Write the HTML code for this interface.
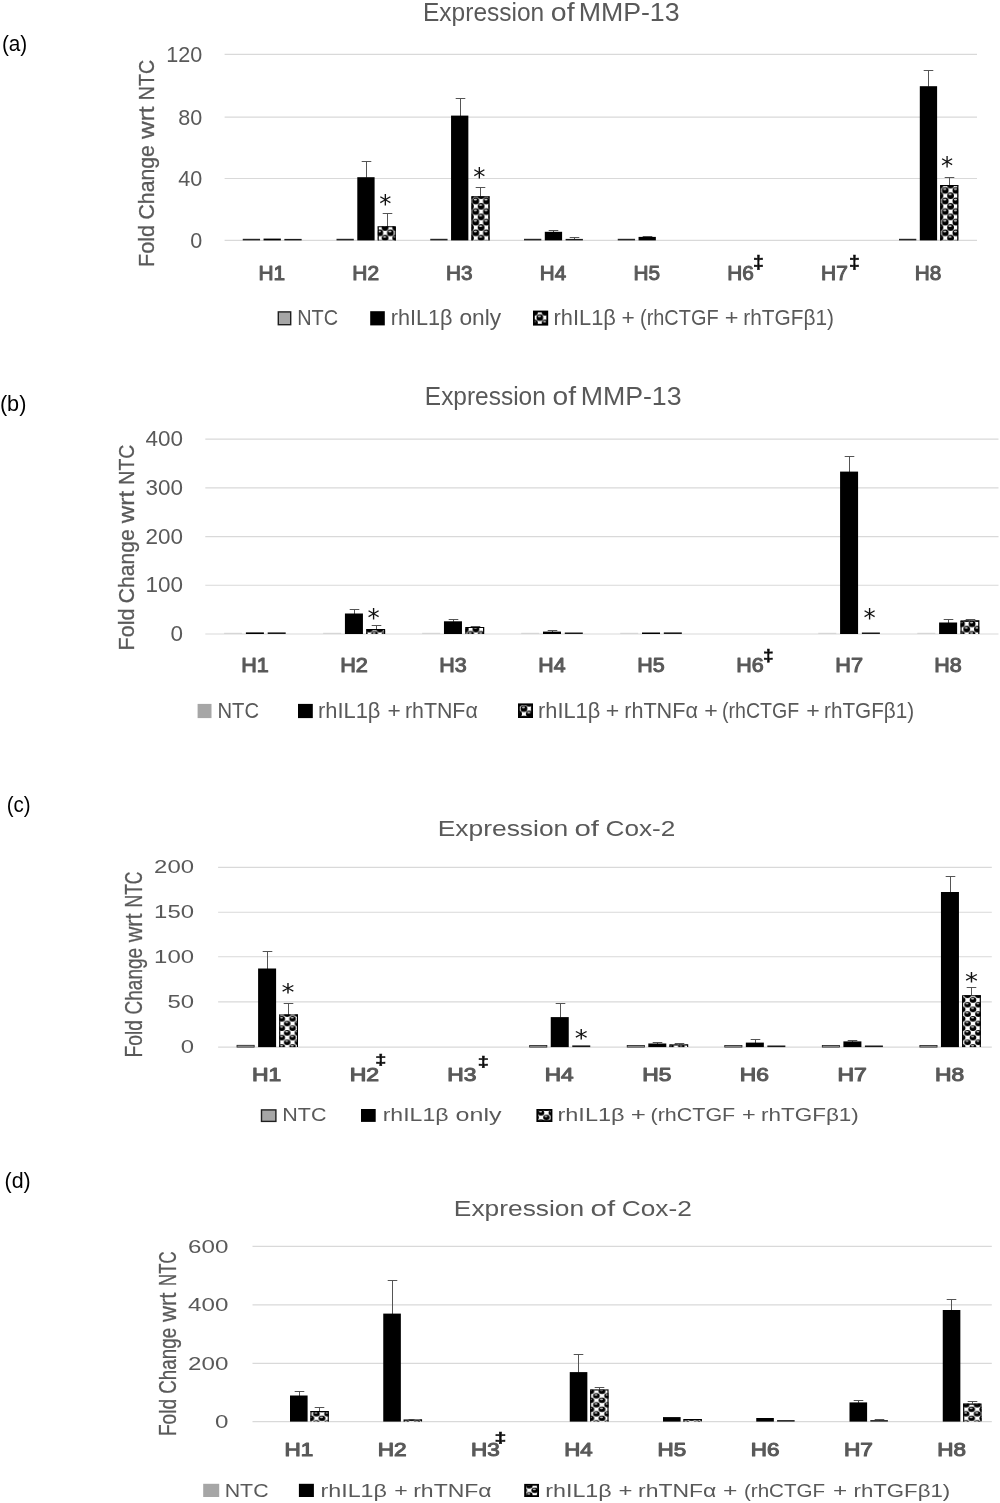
<!DOCTYPE html>
<html lang="en">
<head>
<meta charset="utf-8">
<title>Expression of MMP-13 and Cox-2</title>
<style>
html,body{margin:0;padding:0;background:#fff;}
svg{display:block;will-change:transform;}

</style>
</head>
<body>
<svg width="1000" height="1503" viewBox="0 0 1000 1503">
<rect width="1000" height="1503" fill="#fff"/>
<defs><pattern id="pa" patternUnits="userSpaceOnUse" x="475.8" y="201" width="10.67" height="10.6"><rect width="10.67" height="10.6" fill="#fff"/><ellipse cx="0" cy="0" rx="3.4" ry="3.4" fill="#000"/><ellipse cx="10.67" cy="0" rx="3.4" ry="3.4" fill="#000"/><ellipse cx="0" cy="10.6" rx="3.4" ry="3.4" fill="#000"/><ellipse cx="10.67" cy="10.6" rx="3.4" ry="3.4" fill="#000"/><ellipse cx="5.33" cy="5.3" rx="3.4" ry="3.4" fill="#000"/><ellipse cx="-0.5" cy="-1.33" rx="1.63" ry="0.88" fill="#d0d0d0"/><ellipse cx="10.17" cy="-1.33" rx="1.63" ry="0.88" fill="#d0d0d0"/><ellipse cx="-0.5" cy="9.27" rx="1.63" ry="0.88" fill="#d0d0d0"/><ellipse cx="10.17" cy="9.27" rx="1.63" ry="0.88" fill="#d0d0d0"/><ellipse cx="4.83" cy="3.97" rx="1.63" ry="0.88" fill="#d0d0d0"/></pattern><pattern id="pb" patternUnits="userSpaceOnUse" x="972.1" y="623.8" width="10.67" height="10.6"><rect width="10.67" height="10.6" fill="#fff"/><ellipse cx="0" cy="0" rx="3.4" ry="3.4" fill="#000"/><ellipse cx="10.67" cy="0" rx="3.4" ry="3.4" fill="#000"/><ellipse cx="0" cy="10.6" rx="3.4" ry="3.4" fill="#000"/><ellipse cx="10.67" cy="10.6" rx="3.4" ry="3.4" fill="#000"/><ellipse cx="5.33" cy="5.3" rx="3.4" ry="3.4" fill="#000"/><ellipse cx="-0.5" cy="-1.33" rx="1.63" ry="0.88" fill="#d0d0d0"/><ellipse cx="10.17" cy="-1.33" rx="1.63" ry="0.88" fill="#d0d0d0"/><ellipse cx="-0.5" cy="9.27" rx="1.63" ry="0.88" fill="#d0d0d0"/><ellipse cx="10.17" cy="9.27" rx="1.63" ry="0.88" fill="#d0d0d0"/><ellipse cx="4.83" cy="3.97" rx="1.63" ry="0.88" fill="#d0d0d0"/></pattern><pattern id="pc" patternUnits="userSpaceOnUse" x="281.8" y="1018.8" width="10.8" height="9.4"><rect width="10.8" height="9.4" fill="#fff"/><ellipse cx="0" cy="0" rx="3.3" ry="2.8" fill="#000"/><ellipse cx="10.8" cy="0" rx="3.3" ry="2.8" fill="#000"/><ellipse cx="0" cy="9.4" rx="3.3" ry="2.8" fill="#000"/><ellipse cx="10.8" cy="9.4" rx="3.3" ry="2.8" fill="#000"/><ellipse cx="5.4" cy="4.7" rx="3.3" ry="2.8" fill="#000"/><ellipse cx="-0.5" cy="-1.09" rx="1.58" ry="0.73" fill="#d0d0d0"/><ellipse cx="10.3" cy="-1.09" rx="1.58" ry="0.73" fill="#d0d0d0"/><ellipse cx="-0.5" cy="8.31" rx="1.58" ry="0.73" fill="#d0d0d0"/><ellipse cx="10.3" cy="8.31" rx="1.58" ry="0.73" fill="#d0d0d0"/><ellipse cx="4.9" cy="3.61" rx="1.58" ry="0.73" fill="#d0d0d0"/></pattern><pattern id="pd" patternUnits="userSpaceOnUse" x="596.4" y="1395.8" width="11.2" height="9"><rect width="11.2" height="9" fill="#fff"/><ellipse cx="0" cy="0" rx="3.4" ry="2.7" fill="#000"/><ellipse cx="11.2" cy="0" rx="3.4" ry="2.7" fill="#000"/><ellipse cx="0" cy="9" rx="3.4" ry="2.7" fill="#000"/><ellipse cx="11.2" cy="9" rx="3.4" ry="2.7" fill="#000"/><ellipse cx="5.6" cy="4.5" rx="3.4" ry="2.7" fill="#000"/><ellipse cx="-0.5" cy="-1.05" rx="1.63" ry="0.7" fill="#d0d0d0"/><ellipse cx="10.7" cy="-1.05" rx="1.63" ry="0.7" fill="#d0d0d0"/><ellipse cx="-0.5" cy="7.95" rx="1.63" ry="0.7" fill="#d0d0d0"/><ellipse cx="10.7" cy="7.95" rx="1.63" ry="0.7" fill="#d0d0d0"/><ellipse cx="5.1" cy="3.45" rx="1.63" ry="0.7" fill="#d0d0d0"/></pattern></defs>
<g fill="#595959" font-family="Liberation Sans, Arial, sans-serif">
<g>
<text x="1.9" y="51" font-size="21.89" fill="#000" textLength="25.4" lengthAdjust="spacingAndGlyphs">(a)</text>
<text y="20.8" font-size="25.29"><tspan x="423.04" textLength="121.2" lengthAdjust="spacingAndGlyphs">Expression</tspan> <tspan x="550.86" textLength="23.71" lengthAdjust="spacingAndGlyphs">of</tspan> <tspan x="578.66" textLength="100.9" lengthAdjust="spacingAndGlyphs">MMP-13</tspan></text>
<text y="0" font-size="22.38" stroke="#595959" stroke-width="0.3" transform="translate(154.3 265.3) rotate(-90)"><tspan x="-1.73" textLength="42.17" lengthAdjust="spacingAndGlyphs">Fold</tspan> <tspan x="45.84" textLength="74.38" lengthAdjust="spacingAndGlyphs">Change</tspan> <tspan x="126.36" textLength="32.55" lengthAdjust="spacingAndGlyphs">wrt</tspan> <tspan x="165.14" textLength="40.36" lengthAdjust="spacingAndGlyphs">NTC</tspan></text>
<line x1="224.6" y1="54.4" x2="977" y2="54.4" stroke="#d9d9d9" stroke-width="1.1"/>
<line x1="224.6" y1="117.1" x2="977" y2="117.1" stroke="#d9d9d9" stroke-width="1.1"/>
<line x1="224.6" y1="178.5" x2="977" y2="178.5" stroke="#d9d9d9" stroke-width="1.1"/>
<line x1="224.6" y1="240.4" x2="977" y2="240.4" stroke="#d9d9d9" stroke-width="1.1"/>
<text x="202.3" y="61.95" font-size="21.37" text-anchor="end" textLength="36" lengthAdjust="spacingAndGlyphs">120</text>
<text x="202.3" y="124.65" font-size="21.37" text-anchor="end" textLength="24" lengthAdjust="spacingAndGlyphs">80</text>
<text x="202.3" y="186.05" font-size="21.37" text-anchor="end" textLength="24" lengthAdjust="spacingAndGlyphs">40</text>
<text x="202.3" y="247.95" font-size="21.37" text-anchor="end" textLength="12" lengthAdjust="spacingAndGlyphs">0</text>
<rect x="242.75" y="238.8" width="17.3" height="1.6" fill="#262626"/>
<rect x="263.55" y="238.6" width="17.3" height="1.8" fill="#000"/>
<rect x="284.35" y="238.9" width="17.3" height="1.5" fill="#1a1a1a"/>
<rect x="336.5" y="238.8" width="17.3" height="1.6" fill="#262626"/>
<path d="M361.7 161.5H371.3M366.5 161.5V177.7" stroke="#555" stroke-width="1" fill="none"/>
<rect x="357.3" y="177.2" width="17.3" height="63.2" fill="#000"/>
<path d="M382.7 213.5H392.3M387.5 213.5V226.7" stroke="#555" stroke-width="1" fill="none"/>
<rect x="377.7" y="226.2" width="18.1" height="14.2" fill="url(#pa)"/>
<path d="M378.25 240.4V226.75H395.25V240.4" stroke="#000" stroke-width="1.1" fill="none"/>
<text x="385.4" y="211.62" font-size="25.49" text-anchor="middle" fill="#111" textLength="12.19" lengthAdjust="spacingAndGlyphs" font-family="DejaVu Sans, Liberation Sans, sans-serif">*</text>
<rect x="430.25" y="238.8" width="17.3" height="1.6" fill="#262626"/>
<path d="M455.7 98.5H465.3M460.5 98.5V116.1" stroke="#555" stroke-width="1" fill="none"/>
<rect x="451.05" y="115.6" width="17.3" height="124.8" fill="#000"/>
<path d="M475.7 187.5H485.3M480.5 187.5V196.8" stroke="#555" stroke-width="1" fill="none"/>
<rect x="471.45" y="196.3" width="18.1" height="44.1" fill="url(#pa)"/>
<path d="M472 240.4V196.85H489V240.4" stroke="#000" stroke-width="1.1" fill="none"/>
<text x="479.25" y="185.37" font-size="25.49" text-anchor="middle" fill="#111" textLength="12.19" lengthAdjust="spacingAndGlyphs" font-family="DejaVu Sans, Liberation Sans, sans-serif">*</text>
<rect x="524" y="238.8" width="17.3" height="1.6" fill="#262626"/>
<path d="M548.7 230.5H558.3M553.5 230.5V232.3" stroke="#555" stroke-width="1" fill="none"/>
<rect x="544.8" y="231.8" width="17.3" height="8.6" fill="#000"/>
<path d="M569.7 237.5H579.3M574.5 237.5V239.4" stroke="#555" stroke-width="1" fill="none"/>
<rect x="565.6" y="238.9" width="17.3" height="1.5" fill="#1a1a1a"/>
<rect x="617.75" y="238.8" width="17.3" height="1.6" fill="#262626"/>
<path d="M642.7 236.5H652.3M647.5 236.5V237.4" stroke="#555" stroke-width="1" fill="none"/>
<rect x="638.55" y="236.9" width="17.3" height="3.5" fill="#000"/>
<rect x="899" y="238.8" width="17.3" height="1.6" fill="#262626"/>
<path d="M923.7 70.5H933.3M928.5 70.5V86.7" stroke="#555" stroke-width="1" fill="none"/>
<rect x="919.8" y="86.2" width="17.3" height="154.2" fill="#000"/>
<path d="M944.7 177.5H954.3M949.5 177.5V185.5" stroke="#555" stroke-width="1" fill="none"/>
<rect x="940.2" y="185" width="18.1" height="55.4" fill="url(#pa)"/>
<path d="M940.75 240.4V185.55H957.75V240.4" stroke="#000" stroke-width="1.1" fill="none"/>
<text x="947.1" y="173.92" font-size="25.49" text-anchor="middle" fill="#111" textLength="12.19" lengthAdjust="spacingAndGlyphs" font-family="DejaVu Sans, Liberation Sans, sans-serif">*</text>
<text x="258.53" y="279.7" font-size="21.08" textLength="26.68" lengthAdjust="spacingAndGlyphs" stroke="#595959" stroke-width="1.05" stroke-linejoin="round">H1</text>
<text x="352.27" y="279.7" font-size="21.08" textLength="26.8" lengthAdjust="spacingAndGlyphs" stroke="#595959" stroke-width="1.05" stroke-linejoin="round">H2</text>
<text x="446.04" y="279.7" font-size="21.08" textLength="26.56" lengthAdjust="spacingAndGlyphs" stroke="#595959" stroke-width="1.05" stroke-linejoin="round">H3</text>
<text x="539.8" y="279.7" font-size="21.08" textLength="26.34" lengthAdjust="spacingAndGlyphs" stroke="#595959" stroke-width="1.05" stroke-linejoin="round">H4</text>
<text x="633.54" y="279.7" font-size="21.08" textLength="26.56" lengthAdjust="spacingAndGlyphs" stroke="#595959" stroke-width="1.05" stroke-linejoin="round">H5</text>
<text x="727.29" y="279.7" font-size="21.08" textLength="26.56" lengthAdjust="spacingAndGlyphs" stroke="#595959" stroke-width="1.05" stroke-linejoin="round">H6</text>
<text x="753.02" y="267.8" font-size="17.65" font-weight="bold" fill="#0d0d0d" textLength="10.8" lengthAdjust="spacingAndGlyphs" stroke="#0d0d0d" stroke-width="0.45">‡</text>
<text x="821.02" y="279.7" font-size="21.08" textLength="26.8" lengthAdjust="spacingAndGlyphs" stroke="#595959" stroke-width="1.05" stroke-linejoin="round">H7</text>
<text x="848.92" y="267.8" font-size="17.65" font-weight="bold" fill="#0d0d0d" textLength="10.8" lengthAdjust="spacingAndGlyphs" stroke="#0d0d0d" stroke-width="0.45">‡</text>
<text x="914.79" y="279.7" font-size="21.08" textLength="26.56" lengthAdjust="spacingAndGlyphs" stroke="#595959" stroke-width="1.05" stroke-linejoin="round">H8</text>
<rect x="278.3" y="311.9" width="12.4" height="12.8" fill="#a6a6a6" stroke="#1f1f1f" stroke-width="1.4"/>
<text y="325.2" font-size="21.37"><tspan x="297.21" textLength="40.89" lengthAdjust="spacingAndGlyphs">NTC</tspan></text>
<rect x="370.2" y="311.2" width="14.6" height="14.2" fill="#000"/>
<text y="325.2" font-size="21.37"><tspan x="390.69" textLength="61.76" lengthAdjust="spacingAndGlyphs">rhIL1β</tspan> <tspan x="459.49" textLength="41.7" lengthAdjust="spacingAndGlyphs">only</tspan></text>
<rect x="533.9" y="311.5" width="13.4" height="13.2" fill="url(#pa)" stroke="#000" stroke-width="1.8"/>
<text y="325.2" font-size="21.37"><tspan x="553.58" textLength="62.28" lengthAdjust="spacingAndGlyphs">rhIL1β</tspan> <tspan x="621.47" textLength="13.25" lengthAdjust="spacingAndGlyphs">+</tspan> <tspan x="640" textLength="78.57" lengthAdjust="spacingAndGlyphs">(rhCTGF</tspan> <tspan x="724.82" textLength="13.73" lengthAdjust="spacingAndGlyphs">+</tspan> <tspan x="743.25" textLength="90.67" lengthAdjust="spacingAndGlyphs">rhTGFβ1)</tspan></text>
</g>
<g>
<text x="-0.1" y="411" font-size="21.89" fill="#000" textLength="26.5" lengthAdjust="spacingAndGlyphs">(b)</text>
<text y="404.7" font-size="25"><tspan x="424.84" textLength="120.99" lengthAdjust="spacingAndGlyphs">Expression</tspan> <tspan x="552.47" textLength="23.5" lengthAdjust="spacingAndGlyphs">of</tspan> <tspan x="580.66" textLength="100.9" lengthAdjust="spacingAndGlyphs">MMP-13</tspan></text>
<text y="0" font-size="22.38" stroke="#595959" stroke-width="0.3" transform="translate(134.3 648.7) rotate(-90)"><tspan x="-1.72" textLength="41.88" lengthAdjust="spacingAndGlyphs">Fold</tspan> <tspan x="45.52" textLength="73.87" lengthAdjust="spacingAndGlyphs">Change</tspan> <tspan x="125.5" textLength="32.33" lengthAdjust="spacingAndGlyphs">wrt</tspan> <tspan x="164.01" textLength="40.08" lengthAdjust="spacingAndGlyphs">NTC</tspan></text>
<line x1="205.3" y1="439.1" x2="998.5" y2="439.1" stroke="#d9d9d9" stroke-width="1.1"/>
<line x1="205.3" y1="487.9" x2="998.5" y2="487.9" stroke="#d9d9d9" stroke-width="1.1"/>
<line x1="205.3" y1="536.6" x2="998.5" y2="536.6" stroke="#d9d9d9" stroke-width="1.1"/>
<line x1="205.3" y1="585.3" x2="998.5" y2="585.3" stroke="#d9d9d9" stroke-width="1.1"/>
<line x1="205.3" y1="634" x2="998.5" y2="634" stroke="#d9d9d9" stroke-width="1.1"/>
<text x="183" y="446.2" font-size="21.51" text-anchor="end" textLength="37.5" lengthAdjust="spacingAndGlyphs">400</text>
<text x="183" y="495" font-size="21.51" text-anchor="end" textLength="37.5" lengthAdjust="spacingAndGlyphs">300</text>
<text x="183" y="543.7" font-size="21.51" text-anchor="end" textLength="37.5" lengthAdjust="spacingAndGlyphs">200</text>
<text x="183" y="592.4" font-size="21.51" text-anchor="end" textLength="37.5" lengthAdjust="spacingAndGlyphs">100</text>
<text x="183" y="641.1" font-size="21.51" text-anchor="end" textLength="12.5" lengthAdjust="spacingAndGlyphs">0</text>
<rect x="224.1" y="632.8" width="18" height="1.2" fill="#d6d6d6"/>
<rect x="245.9" y="632.4" width="18" height="1.6" fill="#000"/>
<rect x="267.7" y="632.4" width="18" height="1.6" fill="#1a1a1a"/>
<rect x="323.13" y="632.8" width="18" height="1.2" fill="#d6d6d6"/>
<path d="M349.7 609.5H359.3M354.5 609.5V614" stroke="#555" stroke-width="1" fill="none"/>
<rect x="344.93" y="613.5" width="18" height="20.5" fill="#000"/>
<path d="M371.7 625.5H381.3M376.5 625.5V629.6" stroke="#555" stroke-width="1" fill="none"/>
<rect x="366.33" y="629.1" width="18.8" height="4.9" fill="url(#pb)"/>
<path d="M366.88 634V629.65H384.58V634" stroke="#000" stroke-width="1.1" fill="none"/>
<text x="373.6" y="625.62" font-size="25.49" text-anchor="middle" fill="#111" textLength="12.19" lengthAdjust="spacingAndGlyphs" font-family="DejaVu Sans, Liberation Sans, sans-serif">*</text>
<rect x="422.16" y="632.8" width="18" height="1.2" fill="#d6d6d6"/>
<path d="M448.7 619.5H458.3M453.5 619.5V621.8" stroke="#555" stroke-width="1" fill="none"/>
<rect x="443.96" y="621.3" width="18" height="12.7" fill="#000"/>
<path d="M470.7 626.5H480.3M475.5 626.5V627.5" stroke="#555" stroke-width="1" fill="none"/>
<rect x="465.36" y="627" width="18.8" height="7" fill="url(#pb)"/>
<path d="M465.91 634V627.55H483.61V634" stroke="#000" stroke-width="1.1" fill="none"/>
<rect x="521.19" y="632.8" width="18" height="1.2" fill="#d6d6d6"/>
<path d="M547.7 630.5H557.3M552.5 630.5V632.1" stroke="#555" stroke-width="1" fill="none"/>
<rect x="542.99" y="631.6" width="18" height="2.4" fill="#000"/>
<rect x="564.79" y="632.5" width="18" height="1.5" fill="#1a1a1a"/>
<rect x="620.22" y="632.8" width="18" height="1.2" fill="#d6d6d6"/>
<rect x="642.02" y="632.5" width="18" height="1.5" fill="#000"/>
<rect x="663.82" y="632.4" width="18" height="1.6" fill="#1a1a1a"/>
<rect x="818.28" y="632.8" width="18" height="1.2" fill="#d6d6d6"/>
<path d="M844.7 456.5H854.3M849.5 456.5V472.1" stroke="#555" stroke-width="1" fill="none"/>
<rect x="840.08" y="471.6" width="18" height="162.4" fill="#000"/>
<rect x="861.88" y="632.5" width="18" height="1.5" fill="#1a1a1a"/>
<text x="869.6" y="625.62" font-size="25.49" text-anchor="middle" fill="#111" textLength="12.19" lengthAdjust="spacingAndGlyphs" font-family="DejaVu Sans, Liberation Sans, sans-serif">*</text>
<rect x="917.31" y="632.8" width="18" height="1.2" fill="#d6d6d6"/>
<path d="M943.7 619.5H953.3M948.5 619.5V623" stroke="#555" stroke-width="1" fill="none"/>
<rect x="939.11" y="622.5" width="18" height="11.5" fill="#000"/>
<path d="M965.7 619.5H975.3M970.5 619.5V620.9" stroke="#555" stroke-width="1" fill="none"/>
<rect x="960.51" y="620.4" width="18.8" height="13.6" fill="url(#pb)"/>
<path d="M961.06 634V620.95H978.76V634" stroke="#000" stroke-width="1.1" fill="none"/>
<text x="241.17" y="671.9" font-size="20.06" textLength="27.57" lengthAdjust="spacingAndGlyphs" stroke="#595959" stroke-width="1.05" stroke-linejoin="round">H1</text>
<text x="340.2" y="671.9" font-size="20.06" textLength="27.69" lengthAdjust="spacingAndGlyphs" stroke="#595959" stroke-width="1.05" stroke-linejoin="round">H2</text>
<text x="439.24" y="671.9" font-size="20.06" textLength="27.45" lengthAdjust="spacingAndGlyphs" stroke="#595959" stroke-width="1.05" stroke-linejoin="round">H3</text>
<text x="538.29" y="671.9" font-size="20.06" textLength="27.21" lengthAdjust="spacingAndGlyphs" stroke="#595959" stroke-width="1.05" stroke-linejoin="round">H4</text>
<text x="637.3" y="671.9" font-size="20.06" textLength="27.45" lengthAdjust="spacingAndGlyphs" stroke="#595959" stroke-width="1.05" stroke-linejoin="round">H5</text>
<text x="736.33" y="671.9" font-size="20.06" textLength="27.45" lengthAdjust="spacingAndGlyphs" stroke="#595959" stroke-width="1.05" stroke-linejoin="round">H6</text>
<text x="763.13" y="661.25" font-size="16.9" font-weight="bold" fill="#0d0d0d" textLength="10.67" lengthAdjust="spacingAndGlyphs" stroke="#0d0d0d" stroke-width="0.45">‡</text>
<text x="835.35" y="671.9" font-size="20.06" textLength="27.69" lengthAdjust="spacingAndGlyphs" stroke="#595959" stroke-width="1.05" stroke-linejoin="round">H7</text>
<text x="934.39" y="671.9" font-size="20.06" textLength="27.45" lengthAdjust="spacingAndGlyphs" stroke="#595959" stroke-width="1.05" stroke-linejoin="round">H8</text>
<rect x="197.6" y="703.9" width="13.9" height="14.2" fill="#a6a6a6"/>
<text y="718" font-size="21.37"><tspan x="217.48" textLength="41.53" lengthAdjust="spacingAndGlyphs">NTC</tspan></text>
<rect x="298" y="703.9" width="14.8" height="14.2" fill="#000"/>
<text y="718" font-size="21.37"><tspan x="317.98" textLength="62.49" lengthAdjust="spacingAndGlyphs">rhIL1β</tspan> <tspan x="387.47" textLength="13.25" lengthAdjust="spacingAndGlyphs">+</tspan> <tspan x="404.91" textLength="72.85" lengthAdjust="spacingAndGlyphs">rhTNFα</tspan></text>
<rect x="518.9" y="704.3" width="13.2" height="12.8" fill="url(#pb)" stroke="#000" stroke-width="1.8"/>
<text y="718" font-size="21.37"><tspan x="538.08" textLength="62.18" lengthAdjust="spacingAndGlyphs">rhIL1β</tspan> <tspan x="605.65" textLength="13.49" lengthAdjust="spacingAndGlyphs">+</tspan> <tspan x="624.19" textLength="73.77" lengthAdjust="spacingAndGlyphs">rhTNFα</tspan> <tspan x="704.25" textLength="13.49" lengthAdjust="spacingAndGlyphs">+</tspan> <tspan x="722.03" textLength="77.14" lengthAdjust="spacingAndGlyphs">(rhCTGF</tspan> <tspan x="806.25" textLength="13.49" lengthAdjust="spacingAndGlyphs">+</tspan> <tspan x="824.06" textLength="90.05" lengthAdjust="spacingAndGlyphs">rhTGFβ1)</tspan></text>
</g>
<g>
<text x="6.7" y="811.8" font-size="21.89" fill="#000" textLength="23.95" lengthAdjust="spacingAndGlyphs">(c)</text>
<text y="836" font-size="22.24"><tspan x="437.69" textLength="130.58" lengthAdjust="spacingAndGlyphs">Expression</tspan> <tspan x="574.42" textLength="24.55" lengthAdjust="spacingAndGlyphs">of</tspan> <tspan x="605.49" textLength="69.89" lengthAdjust="spacingAndGlyphs">Cox-2</tspan></text>
<text y="0" font-size="24.13" stroke="#595959" stroke-width="0.3" transform="translate(141.5 1055.9) rotate(-90)"><tspan x="-1.54" textLength="37.54" lengthAdjust="spacingAndGlyphs">Fold</tspan> <tspan x="41.45" textLength="66.56" lengthAdjust="spacingAndGlyphs">Change</tspan> <tspan x="113.59" textLength="28.79" lengthAdjust="spacingAndGlyphs">wrt</tspan> <tspan x="148.39" textLength="36.02" lengthAdjust="spacingAndGlyphs">NTC</tspan></text>
<line x1="218.1" y1="867.4" x2="991.8" y2="867.4" stroke="#d9d9d9" stroke-width="1.1"/>
<line x1="218.1" y1="912.3" x2="991.8" y2="912.3" stroke="#d9d9d9" stroke-width="1.1"/>
<line x1="218.1" y1="956.8" x2="991.8" y2="956.8" stroke="#d9d9d9" stroke-width="1.1"/>
<line x1="218.1" y1="1001.9" x2="991.8" y2="1001.9" stroke="#d9d9d9" stroke-width="1.1"/>
<line x1="218.1" y1="1047.1" x2="991.8" y2="1047.1" stroke="#d9d9d9" stroke-width="1.1"/>
<text x="194" y="873.2" font-size="18.31" text-anchor="end" textLength="39.9" lengthAdjust="spacingAndGlyphs">200</text>
<text x="194" y="918.1" font-size="18.31" text-anchor="end" textLength="39.9" lengthAdjust="spacingAndGlyphs">150</text>
<text x="194" y="962.6" font-size="18.31" text-anchor="end" textLength="39.9" lengthAdjust="spacingAndGlyphs">100</text>
<text x="194" y="1007.7" font-size="18.31" text-anchor="end" textLength="26.6" lengthAdjust="spacingAndGlyphs">50</text>
<text x="194" y="1052.9" font-size="18.31" text-anchor="end" textLength="13.3" lengthAdjust="spacingAndGlyphs">0</text>
<rect x="237" y="1045.3" width="17.2" height="1.8" fill="#b0b0b0" stroke="#1f1f1f" stroke-width="0.8"/>
<path d="M262.7 951.5H272.3M267.5 951.5V969" stroke="#555" stroke-width="1" fill="none"/>
<rect x="258.1" y="968.5" width="18" height="78.6" fill="#000"/>
<path d="M283.7 1003.5H293.3M288.5 1003.5V1014.9" stroke="#555" stroke-width="1" fill="none"/>
<rect x="279.2" y="1014.4" width="18.8" height="32.7" fill="url(#pc)"/>
<path d="M279.75 1047.1V1014.95H297.45V1047.1" stroke="#000" stroke-width="1.1" fill="none"/>
<text x="287.9" y="1000.36" font-size="22.86" text-anchor="middle" fill="#111" textLength="12.98" lengthAdjust="spacingAndGlyphs" font-family="DejaVu Sans, Liberation Sans, sans-serif">*</text>
<rect x="529.65" y="1045.5" width="17.2" height="1.6" fill="#b0b0b0" stroke="#1f1f1f" stroke-width="0.8"/>
<path d="M555.7 1003.5H565.3M560.5 1003.5V1017.6" stroke="#555" stroke-width="1" fill="none"/>
<rect x="550.75" y="1017.1" width="18" height="30" fill="#000"/>
<rect x="572.25" y="1045.4" width="18" height="1.7" fill="#1a1a1a"/>
<text x="581.25" y="1045.51" font-size="22.86" text-anchor="middle" fill="#111" textLength="12.98" lengthAdjust="spacingAndGlyphs" font-family="DejaVu Sans, Liberation Sans, sans-serif">*</text>
<rect x="627.2" y="1045.5" width="17.2" height="1.6" fill="#b0b0b0" stroke="#1f1f1f" stroke-width="0.8"/>
<path d="M652.7 1042.5H662.3M657.5 1042.5V1044" stroke="#555" stroke-width="1" fill="none"/>
<rect x="648.3" y="1043.5" width="18" height="3.6" fill="#000"/>
<path d="M674.7 1043.5H684.3M679.5 1043.5V1044.9" stroke="#555" stroke-width="1" fill="none"/>
<rect x="669.4" y="1044.4" width="18.8" height="2.7" fill="url(#pc)"/>
<path d="M669.95 1047.1V1044.95H687.65V1047.1" stroke="#000" stroke-width="1.1" fill="none"/>
<rect x="724.75" y="1045.5" width="17.2" height="1.6" fill="#b0b0b0" stroke="#1f1f1f" stroke-width="0.8"/>
<path d="M750.7 1039.5H760.3M755.5 1039.5V1043.1" stroke="#555" stroke-width="1" fill="none"/>
<rect x="745.85" y="1042.6" width="18" height="4.5" fill="#000"/>
<rect x="767.35" y="1045.5" width="18" height="1.6" fill="#1a1a1a"/>
<rect x="822.3" y="1045.5" width="17.2" height="1.6" fill="#b0b0b0" stroke="#1f1f1f" stroke-width="0.8"/>
<path d="M847.7 1040.5H857.3M852.5 1040.5V1041.9" stroke="#555" stroke-width="1" fill="none"/>
<rect x="843.4" y="1041.4" width="18" height="5.7" fill="#000"/>
<rect x="864.9" y="1045.5" width="18" height="1.6" fill="#1a1a1a"/>
<rect x="919.85" y="1045.5" width="17.2" height="1.6" fill="#b0b0b0" stroke="#1f1f1f" stroke-width="0.8"/>
<path d="M945.7 876.5H955.3M950.5 876.5V892.5" stroke="#555" stroke-width="1" fill="none"/>
<rect x="940.95" y="892" width="18" height="155.1" fill="#000"/>
<path d="M966.7 987.5H976.3M971.5 987.5V995.7" stroke="#555" stroke-width="1" fill="none"/>
<rect x="962.05" y="995.2" width="18.8" height="51.9" fill="url(#pc)"/>
<path d="M962.6 1047.1V995.75H980.3V1047.1" stroke="#000" stroke-width="1.1" fill="none"/>
<text x="971.6" y="989.16" font-size="22.86" text-anchor="middle" fill="#111" textLength="12.98" lengthAdjust="spacingAndGlyphs" font-family="DejaVu Sans, Liberation Sans, sans-serif">*</text>
<text x="252.12" y="1080.9" font-size="18.02" textLength="29.24" lengthAdjust="spacingAndGlyphs" stroke="#595959" stroke-width="1.05" stroke-linejoin="round">H1</text>
<text x="349.66" y="1080.9" font-size="18.02" textLength="29.36" lengthAdjust="spacingAndGlyphs" stroke="#595959" stroke-width="1.05" stroke-linejoin="round">H2</text>
<text x="375.19" y="1065.02" font-size="14.38" font-weight="bold" fill="#0d0d0d" textLength="11.07" lengthAdjust="spacingAndGlyphs" stroke="#0d0d0d" stroke-width="0.45">‡</text>
<text x="447.23" y="1080.9" font-size="18.02" textLength="29.11" lengthAdjust="spacingAndGlyphs" stroke="#595959" stroke-width="1.05" stroke-linejoin="round">H3</text>
<text x="477.79" y="1066.52" font-size="14.38" font-weight="bold" fill="#0d0d0d" textLength="11.07" lengthAdjust="spacingAndGlyphs" stroke="#0d0d0d" stroke-width="0.45">‡</text>
<text x="544.79" y="1080.9" font-size="18.02" textLength="28.86" lengthAdjust="spacingAndGlyphs" stroke="#595959" stroke-width="1.05" stroke-linejoin="round">H4</text>
<text x="642.33" y="1080.9" font-size="18.02" textLength="29.11" lengthAdjust="spacingAndGlyphs" stroke="#595959" stroke-width="1.05" stroke-linejoin="round">H5</text>
<text x="739.88" y="1080.9" font-size="18.02" textLength="29.11" lengthAdjust="spacingAndGlyphs" stroke="#595959" stroke-width="1.05" stroke-linejoin="round">H6</text>
<text x="837.41" y="1080.9" font-size="18.02" textLength="29.36" lengthAdjust="spacingAndGlyphs" stroke="#595959" stroke-width="1.05" stroke-linejoin="round">H7</text>
<text x="934.98" y="1080.9" font-size="18.02" textLength="29.11" lengthAdjust="spacingAndGlyphs" stroke="#595959" stroke-width="1.05" stroke-linejoin="round">H8</text>
<rect x="261.5" y="1109.9" width="14.4" height="11.5" fill="#a6a6a6" stroke="#1f1f1f" stroke-width="1.4"/>
<text y="1121.3" font-size="18.9"><tspan x="282.28" textLength="44.18" lengthAdjust="spacingAndGlyphs">NTC</tspan></text>
<rect x="361" y="1109" width="14.7" height="12.9" fill="#000"/>
<text y="1121.3" font-size="18.9"><tspan x="382.7" textLength="65.81" lengthAdjust="spacingAndGlyphs">rhIL1β</tspan> <tspan x="455.6" textLength="45.99" lengthAdjust="spacingAndGlyphs">only</tspan></text>
<rect x="537.3" y="1109.9" width="14.2" height="11.2" fill="url(#pc)" stroke="#000" stroke-width="1.8"/>
<text y="1121.3" font-size="18.9"><tspan x="557.47" textLength="67.06" lengthAdjust="spacingAndGlyphs">rhIL1β</tspan> <tspan x="630.8" textLength="15.17" lengthAdjust="spacingAndGlyphs">+</tspan> <tspan x="650.51" textLength="84.73" lengthAdjust="spacingAndGlyphs">(rhCTGF</tspan> <tspan x="742.02" textLength="13.73" lengthAdjust="spacingAndGlyphs">+</tspan> <tspan x="760.94" textLength="97.88" lengthAdjust="spacingAndGlyphs">rhTGFβ1)</tspan></text>
</g>
<g>
<text x="4.5" y="1187.6" font-size="21.89" fill="#000" textLength="26.2" lengthAdjust="spacingAndGlyphs">(d)</text>
<text y="1215.9" font-size="21.95"><tspan x="453.89" textLength="130.27" lengthAdjust="spacingAndGlyphs">Expression</tspan> <tspan x="590.62" textLength="24.55" lengthAdjust="spacingAndGlyphs">of</tspan> <tspan x="621.69" textLength="70.1" lengthAdjust="spacingAndGlyphs">Cox-2</tspan></text>
<text y="0" font-size="24.71" stroke="#595959" stroke-width="0.3" transform="translate(175.9 1434.6) rotate(-90)"><tspan x="-1.53" textLength="37.28" lengthAdjust="spacingAndGlyphs">Fold</tspan> <tspan x="40.85" textLength="65.85" lengthAdjust="spacingAndGlyphs">Change</tspan> <tspan x="112.69" textLength="29.38" lengthAdjust="spacingAndGlyphs">wrt</tspan> <tspan x="148.68" textLength="34.41" lengthAdjust="spacingAndGlyphs">NTC</tspan></text>
<line x1="252.5" y1="1246.4" x2="991.8" y2="1246.4" stroke="#d9d9d9" stroke-width="1.1"/>
<line x1="252.5" y1="1304.9" x2="991.8" y2="1304.9" stroke="#d9d9d9" stroke-width="1.1"/>
<line x1="252.5" y1="1363.4" x2="991.8" y2="1363.4" stroke="#d9d9d9" stroke-width="1.1"/>
<line x1="252.5" y1="1421.6" x2="991.8" y2="1421.6" stroke="#d9d9d9" stroke-width="1.1"/>
<text x="228.4" y="1252.6" font-size="18.9" text-anchor="end" textLength="40.35" lengthAdjust="spacingAndGlyphs">600</text>
<text x="228.4" y="1311.1" font-size="18.9" text-anchor="end" textLength="40.35" lengthAdjust="spacingAndGlyphs">400</text>
<text x="228.4" y="1369.6" font-size="18.9" text-anchor="end" textLength="40.35" lengthAdjust="spacingAndGlyphs">200</text>
<text x="228.4" y="1427.8" font-size="18.9" text-anchor="end" textLength="13.45" lengthAdjust="spacingAndGlyphs">0</text>
<path d="M294.7 1391.5H304.3M299.5 1391.5V1396" stroke="#555" stroke-width="1" fill="none"/>
<rect x="290" y="1395.5" width="17.6" height="26.1" fill="#000"/>
<path d="M314.7 1407.5H324.3M319.5 1407.5V1411.6" stroke="#555" stroke-width="1" fill="none"/>
<rect x="310.4" y="1411.1" width="18.4" height="10.5" fill="url(#pd)"/>
<path d="M310.95 1421.6V1411.65H328.25V1421.6" stroke="#000" stroke-width="1.1" fill="none"/>
<path d="M387.7 1280.5H397.3M392.5 1280.5V1314.1" stroke="#555" stroke-width="1" fill="none"/>
<rect x="383.25" y="1313.6" width="17.6" height="108" fill="#000"/>
<rect x="403.65" y="1419.5" width="18.4" height="2.1" fill="url(#pd)"/>
<path d="M404.2 1421.6V1420.05H421.5V1421.6" stroke="#000" stroke-width="1.1" fill="none"/>
<path d="M573.7 1354.5H583.3M578.5 1354.5V1372.6" stroke="#555" stroke-width="1" fill="none"/>
<rect x="569.75" y="1372.1" width="17.6" height="49.5" fill="#000"/>
<path d="M594.7 1387.5H604.3M599.5 1387.5V1390" stroke="#555" stroke-width="1" fill="none"/>
<rect x="590.15" y="1389.5" width="18.4" height="32.1" fill="url(#pd)"/>
<path d="M590.7 1421.6V1390.05H608V1421.6" stroke="#000" stroke-width="1.1" fill="none"/>
<rect x="663" y="1417.1" width="17.6" height="4.5" fill="#000"/>
<rect x="683.4" y="1419" width="18.4" height="2.6" fill="url(#pd)"/>
<path d="M683.95 1421.6V1419.55H701.25V1421.6" stroke="#000" stroke-width="1.1" fill="none"/>
<rect x="756.25" y="1418" width="17.6" height="3.6" fill="#000"/>
<rect x="777.05" y="1420.1" width="17.6" height="1.5" fill="#1a1a1a"/>
<path d="M853.7 1400.5H863.3M858.5 1400.5V1402.9" stroke="#555" stroke-width="1" fill="none"/>
<rect x="849.5" y="1402.4" width="17.6" height="19.2" fill="#000"/>
<path d="M874.7 1419.5H884.3M879.5 1419.5V1420.6" stroke="#555" stroke-width="1" fill="none"/>
<rect x="870.3" y="1420.1" width="17.6" height="1.5" fill="#1a1a1a"/>
<path d="M946.7 1299.5H956.3M951.5 1299.5V1310.5" stroke="#555" stroke-width="1" fill="none"/>
<rect x="942.75" y="1310" width="17.6" height="111.6" fill="#000"/>
<path d="M967.7 1401.5H977.3M972.5 1401.5V1404.1" stroke="#555" stroke-width="1" fill="none"/>
<rect x="963.15" y="1403.6" width="18.4" height="18" fill="url(#pd)"/>
<path d="M963.7 1421.6V1404.15H981V1421.6" stroke="#000" stroke-width="1.1" fill="none"/>
<text x="284.55" y="1456" font-size="18.31" textLength="28.79" lengthAdjust="spacingAndGlyphs" stroke="#595959" stroke-width="1.05" stroke-linejoin="round">H1</text>
<text x="377.79" y="1456" font-size="18.31" textLength="28.92" lengthAdjust="spacingAndGlyphs" stroke="#595959" stroke-width="1.05" stroke-linejoin="round">H2</text>
<text x="471.06" y="1456" font-size="18.31" textLength="28.67" lengthAdjust="spacingAndGlyphs" stroke="#595959" stroke-width="1.05" stroke-linejoin="round">H3</text>
<text x="494.49" y="1442.64" font-size="14.12" font-weight="bold" fill="#0d0d0d" textLength="11.86" lengthAdjust="spacingAndGlyphs" stroke="#0d0d0d" stroke-width="0.45">‡</text>
<text x="564.32" y="1456" font-size="18.31" textLength="28.42" lengthAdjust="spacingAndGlyphs" stroke="#595959" stroke-width="1.05" stroke-linejoin="round">H4</text>
<text x="657.56" y="1456" font-size="18.31" textLength="28.67" lengthAdjust="spacingAndGlyphs" stroke="#595959" stroke-width="1.05" stroke-linejoin="round">H5</text>
<text x="750.81" y="1456" font-size="18.31" textLength="28.67" lengthAdjust="spacingAndGlyphs" stroke="#595959" stroke-width="1.05" stroke-linejoin="round">H6</text>
<text x="844.04" y="1456" font-size="18.31" textLength="28.92" lengthAdjust="spacingAndGlyphs" stroke="#595959" stroke-width="1.05" stroke-linejoin="round">H7</text>
<text x="937.31" y="1456" font-size="18.31" textLength="28.67" lengthAdjust="spacingAndGlyphs" stroke="#595959" stroke-width="1.05" stroke-linejoin="round">H8</text>
<rect x="203.2" y="1483.8" width="16" height="13.2" fill="#a6a6a6"/>
<text y="1496.6" font-size="18.9"><tspan x="224.69" textLength="43.86" lengthAdjust="spacingAndGlyphs">NTC</tspan></text>
<rect x="298.9" y="1483.8" width="15" height="13.2" fill="#000"/>
<text y="1496.6" font-size="18.9"><tspan x="320.49" textLength="66.43" lengthAdjust="spacingAndGlyphs">rhIL1β</tspan> <tspan x="394.25" textLength="13.49" lengthAdjust="spacingAndGlyphs">+</tspan> <tspan x="413.21" textLength="78.4" lengthAdjust="spacingAndGlyphs">rhTNFα</tspan></text>
<rect x="525.1" y="1484.8" width="13" height="11.3" fill="url(#pd)" stroke="#000" stroke-width="1.8"/>
<text y="1496.6" font-size="18.9"><tspan x="545.29" textLength="66.43" lengthAdjust="spacingAndGlyphs">rhIL1β</tspan> <tspan x="618.6" textLength="13.97" lengthAdjust="spacingAndGlyphs">+</tspan> <tspan x="638.11" textLength="78.29" lengthAdjust="spacingAndGlyphs">rhTNFα</tspan> <tspan x="722.96" textLength="14.45" lengthAdjust="spacingAndGlyphs">+</tspan> <tspan x="743.96" textLength="81.24" lengthAdjust="spacingAndGlyphs">(rhCTGF</tspan> <tspan x="832.98" textLength="14.21" lengthAdjust="spacingAndGlyphs">+</tspan> <tspan x="853.56" textLength="96.65" lengthAdjust="spacingAndGlyphs">rhTGFβ1)</tspan></text>
</g>
</g>
</svg>
</body>
</html>
